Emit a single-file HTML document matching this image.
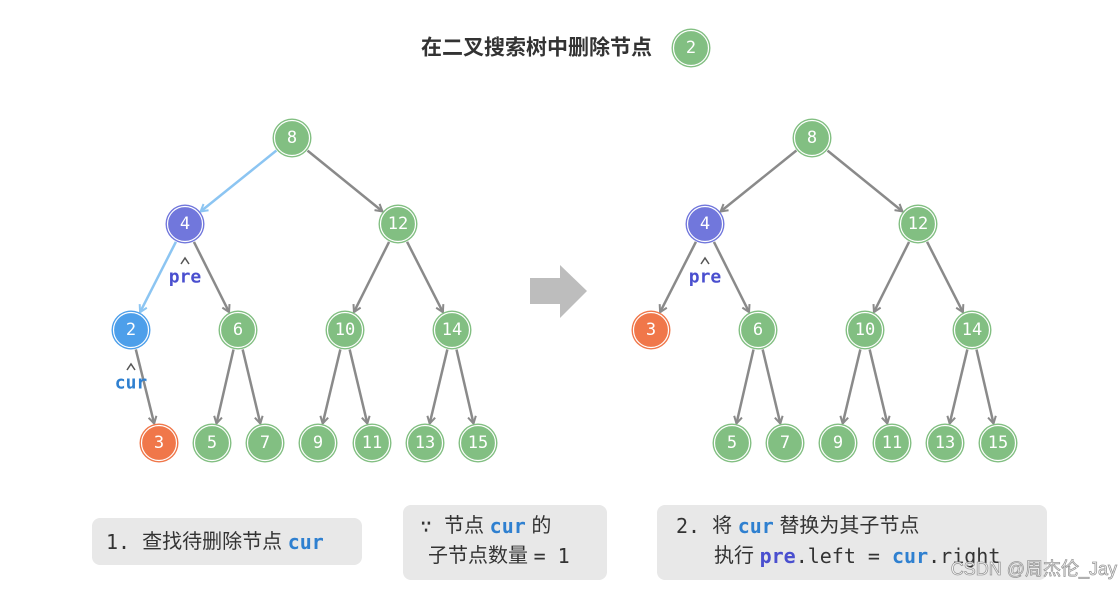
<!DOCTYPE html>
<html><head><meta charset="utf-8"><style>
body{margin:0;background:#fff;width:1119px;height:587px;overflow:hidden}
svg text{font-family:"DejaVu Sans Mono","Liberation Mono",monospace}
.t{font-family:"Liberation Sans","Noto Sans CJK SC",sans-serif}
.n{fill:#fff;font-size:17px;text-anchor:middle;dominant-baseline:central}
</style></head><body>
<svg id="s" width="1119" height="587" xmlns="http://www.w3.org/2000/svg">
<defs>
<marker id="g" markerWidth="10" markerHeight="10" refX="8" refY="5" orient="auto" markerUnits="userSpaceOnUse"><path d="M1,1 L8,5 L1,9" fill="none" stroke="#8a8a8a" stroke-width="2"/></marker>
<marker id="b" markerWidth="10" markerHeight="10" refX="8" refY="5" orient="auto" markerUnits="userSpaceOnUse"><path d="M1,1 L8,5 L1,9" fill="none" stroke="#8cc5f2" stroke-width="2"/></marker>
</defs>
<text x="652" y="48" class="t" font-size="21" font-weight="bold" fill="#333" text-anchor="end" dominant-baseline="central">在二叉搜索树中删除节点</text>
<g id="lines"></g>
<g id="nodes"></g>
<text x="691" y="48" class="n" font-size="17">2</text>
<path d="M530,278 H560 V265 L587,291 L560,318 V304 H530Z" fill="#bdbdbd"/>
<path d="M181,264 L185,258 L189,264" fill="none" stroke="#555" stroke-width="1.5"/>
<text x="185" y="277" font-size="18" font-weight="bold" fill="#4a4fcf" text-anchor="middle" dominant-baseline="central">pre</text>
<path d="M127,370 L131,364 L135,370" fill="none" stroke="#555" stroke-width="1.5"/>
<text x="131" y="383" font-size="18" font-weight="bold" fill="#2f80d0" text-anchor="middle" dominant-baseline="central">cur</text>
<path d="M701,264 L705,258 L709,264" fill="none" stroke="#555" stroke-width="1.5"/>
<text x="705" y="277" font-size="18" font-weight="bold" fill="#4a4fcf" text-anchor="middle" dominant-baseline="central">pre</text>
<text class="n" x="292" y="138">8</text><text class="n" x="185" y="224">4</text><text class="n" x="398" y="224">12</text>
<text class="n" x="131" y="330">2</text><text class="n" x="238" y="330">6</text><text class="n" x="345" y="330">10</text><text class="n" x="452" y="330">14</text>
<text class="n" x="159" y="443">3</text><text class="n" x="212" y="443">5</text><text class="n" x="265" y="443">7</text><text class="n" x="318" y="443">9</text><text class="n" x="372" y="443">11</text><text class="n" x="425" y="443">13</text><text class="n" x="478" y="443">15</text>
<text class="n" x="812" y="138">8</text><text class="n" x="705" y="224">4</text><text class="n" x="918" y="224">12</text>
<text class="n" x="651" y="330">3</text><text class="n" x="758" y="330">6</text><text class="n" x="865" y="330">10</text><text class="n" x="972" y="330">14</text>
<text class="n" x="732" y="443">5</text><text class="n" x="785" y="443">7</text><text class="n" x="838" y="443">9</text><text class="n" x="892" y="443">11</text><text class="n" x="945" y="443">13</text><text class="n" x="998" y="443">15</text>
<rect x="92" y="518" width="270" height="47" rx="8" fill="#e8e8e8"/>
<rect x="403" y="505" width="204" height="75" rx="8" fill="#e8e8e8"/>
<rect x="657" y="505" width="390" height="75" rx="8" fill="#e8e8e8"/>
<text y="542" font-size="20" fill="#333" dominant-baseline="central"><tspan x="106">1. </tspan><tspan class="t">查找待删除节点 </tspan><tspan fill="#2f80d0" font-weight="bold">cur</tspan></text>
<text y="526" font-size="20" fill="#333" dominant-baseline="central"><tspan x="420">∵ </tspan><tspan class="t">节点 </tspan><tspan fill="#2f80d0" font-weight="bold">cur</tspan><tspan class="t"> 的</tspan></text>
<text y="556" font-size="20" fill="#333" dominant-baseline="central"><tspan x="428" class="t">子节点数量 </tspan><tspan>= 1</tspan></text>
<text y="526" font-size="20" fill="#333" dominant-baseline="central"><tspan x="676">2. </tspan><tspan class="t">将 </tspan><tspan fill="#2f80d0" font-weight="bold">cur</tspan><tspan class="t"> 替换为其子节点</tspan></text>
<text y="556" font-size="20" fill="#333" dominant-baseline="central"><tspan x="714" class="t">执行 </tspan><tspan fill="#4a4fcf" font-weight="bold">pre</tspan><tspan>.left = </tspan><tspan fill="#2f80d0" font-weight="bold">cur</tspan><tspan>.right</tspan></text>
<text x="1117" y="569" class="t" font-size="18" fill="#fff" stroke="#999" stroke-width="0.8" text-anchor="end" dominant-baseline="central">CSDN @周杰伦_Jay</text>
</svg>
<script>
var ns="http://www.w3.org/2000/svg",L=document.getElementById('lines'),N=document.getElementById('nodes');
var G='#82bf82',P='#7177dc',B='#4d9fea',O='#f0774a';
function node(x,y,c){var a=document.createElementNS(ns,'circle');a.setAttribute('cx',x);a.setAttribute('cy',y);a.setAttribute('r',19.5);a.setAttribute('fill',c);N.appendChild(a);
var b=document.createElementNS(ns,'circle');b.setAttribute('cx',x);b.setAttribute('cy',y);b.setAttribute('r',17.5);b.setAttribute('fill','none');b.setAttribute('stroke','#fff');b.setAttribute('stroke-width','1.2');N.appendChild(b);}
function edge(x1,y1,x2,y2,bl){var dx=x2-x1,dy=y2-y1,d=Math.hypot(dx,dy),r=20;var l=document.createElementNS(ns,'line');
l.setAttribute('x1',x1+dx/d*r);l.setAttribute('y1',y1+dy/d*r);l.setAttribute('x2',x2-dx/d*r);l.setAttribute('y2',y2-dy/d*r);
l.setAttribute('stroke',bl?'#8cc5f2':'#8a8a8a');l.setAttribute('stroke-width',2.5);l.setAttribute('marker-end',bl?'url(#b)':'url(#g)');L.appendChild(l);}
function tree(o,left){var n={8:[292,138],4:[185,224],12:[398,224],2:[131,330],6:[238,330],10:[345,330],14:[452,330],3:[159,443],5:[212,443],7:[265,443],9:[318,443],11:[372,443],13:[425,443],15:[478,443]};
for(var k in n)n[k][0]+=o;
if(!left){n[3]=[651,330];delete n[2];}
var e=left?[[8,4,1],[8,12],[4,2,1],[4,6],[12,10],[12,14],[2,3],[6,5],[6,7],[10,9],[10,11],[14,13],[14,15]]:[[8,4],[8,12],[4,3],[4,6],[12,10],[12,14],[6,5],[6,7],[10,9],[10,11],[14,13],[14,15]];
e.forEach(function(a){edge(n[a[0]][0],n[a[0]][1],n[a[1]][0],n[a[1]][1],a[2])});
for(var k in n){var c=G;if(k==4)c=P;if(k==2)c=B;if(k==3)c=O;node(n[k][0],n[k][1],c);}}
tree(0,true);tree(520,false);node(691,48,G);
</script>
</body></html>
